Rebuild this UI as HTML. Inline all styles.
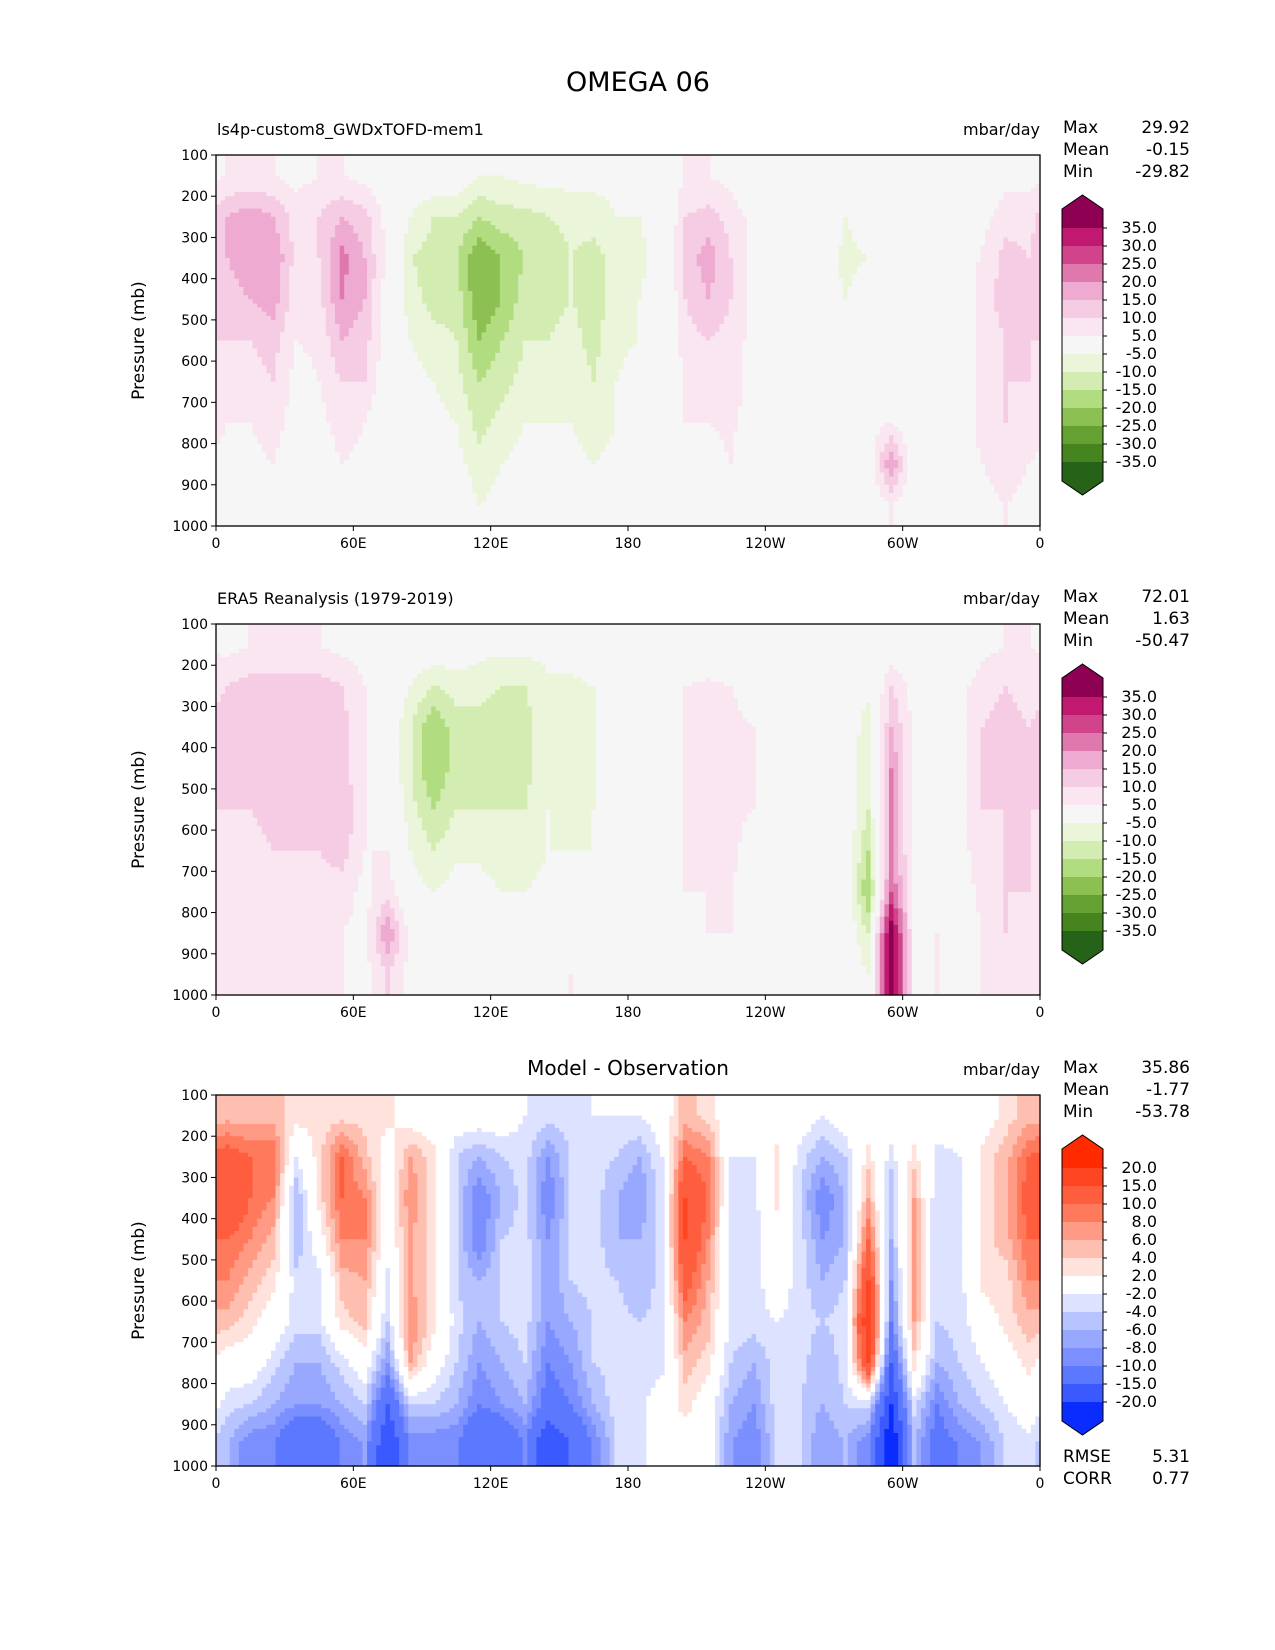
<!DOCTYPE html>
<html><head><meta charset="utf-8">
<style>
body{margin:0;background:#fff;}
svg{display:block;font-family:"DejaVu Sans","Liberation Sans",sans-serif;}
</style></head>
<body>
<svg id="fig" width="1275" height="1650" viewBox="0 0 1275 1650">
<rect width="1275" height="1650" fill="#fff"/>
<text x="638" y="91" font-size="27" text-anchor="middle">OMEGA 06</text>
</svg>
<script>
// ---------- data ----------
const lons = [5,15,25,35,45,55,65,75,85,95,105,115,125,135,145,155,165,175,185,195,205,215,225,235,245,255,265,275,285,295,305,315,325,335,345,355];
const levels = [150,250,350,450,550,650,750,850,950];
const xTickLabels = ["0","60E","120E","180","120W","60W","0"];
const yTickLabels = ["100","200","300","400","500","600","700","800","900","1000"];
const modelValues = [
[5,15,15,12,10,8,5,3,2],[5,18,20,15,10,8,5,3,2],[5,15,20,18,12,10,8,5,3],[3,8,8,6,5,3,2,0,-3],
[5,10,10,8,6,5,3,0,-2],[5,15,22,20,15,10,8,5,3],[3,12,15,15,12,10,5,3,0],[0,3,3,2,2,0,0,-5,0],
[0,-5,-10,-8,-5,-3,0,0,0],[0,-10,-12,-12,-8,-5,-3,-3,-5],[0,-10,-15,-12,-10,-8,-5,-3,0],[-5,-15,-25,-25,-20,-15,-12,-8,-5],
[-5,-12,-20,-20,-15,-12,-8,-5,-3],[-3,-12,-15,-12,-10,-8,-5,-3,0],[-3,-10,-15,-12,-10,-8,-5,-3,0],[-3,-8,-10,-10,-8,-6,-5,-3,0],
[-3,-8,-12,-12,-12,-10,-8,-5,-3],[-3,-5,-8,-8,-6,-5,-5,-3,0],[0,-5,-6,-5,-5,-3,-3,0,0],[0,-3,-3,-3,-3,0,0,0,0],
[5,10,12,10,8,5,5,3,0],[5,12,18,15,10,8,5,3,0],[3,8,10,10,8,8,6,5,3],[0,3,3,3,3,3,2,0,0],
[0,0,0,0,0,0,0,0,0],[0,0,0,0,0,0,0,0,0],[0,0,-3,-3,0,0,0,0,0],[0,-5,-6,-5,0,0,0,0,0],
[0,-3,-5,-3,0,0,3,0,0],[0,0,0,0,0,0,5,20,5],[0,0,0,0,0,0,0,0,0],[0,0,0,0,0,0,0,-3,-3],
[0,0,0,0,0,0,0,0,0],[0,3,6,8,8,8,8,5,3],[3,8,12,12,10,10,10,8,5],[3,8,10,10,10,10,8,5,3]];
const obsValues = [
[3,10,12,12,10,8,5,5,5],[5,12,12,12,10,8,5,5,5],[5,12,12,12,12,10,8,8,8],[5,12,12,12,12,10,8,5,5],
[5,12,12,12,12,10,8,5,5],[3,10,12,12,15,12,8,5,5],[3,5,5,5,5,5,3,3,3],[0,3,0,0,3,5,8,20,10],
[0,-5,-10,-10,-8,-5,-3,3,3],[0,-10,-20,-20,-15,-10,-5,0,3],[0,-8,-12,-12,-10,-6,-3,0,0],[-3,-8,-12,-12,-10,-6,-3,0,3],
[-3,-10,-15,-12,-10,-8,-5,-3,0],[-3,-10,-12,-12,-10,-8,-5,0,0],[-3,-6,-6,-6,-5,-5,-3,0,3],[-3,-6,-8,-8,-6,-5,-3,3,5],
[0,-5,-6,-6,-5,-5,-3,0,0],[0,0,0,0,0,0,0,0,0],[0,0,0,0,0,0,0,0,0],[0,0,0,0,0,0,0,0,0],
[0,5,6,6,5,5,5,3,3],[0,6,8,8,6,6,5,5,3],[0,5,6,6,6,6,5,5,3],[0,3,5,5,5,3,3,3,3],
[0,0,0,0,0,0,0,0,0],[0,0,0,0,0,0,0,0,0],[0,0,0,0,0,0,0,0,0],[0,0,0,0,0,0,0,0,0],
[0,-3,-8,-10,-10,-15,-20,-10,-5],[0,10,15,20,20,20,25,40,40],[0,3,3,3,3,3,3,3,3],[0,3,3,3,3,3,3,5,5],
[0,3,3,3,3,3,3,3,3],[3,8,10,10,10,8,6,5,5],[5,10,12,12,10,10,10,10,8],[5,8,10,10,10,10,10,8,8]];
const diffValues = [
[5,12,15,10,8,5,0,-3,-6],[5,10,10,8,5,3,0,-4,-10],[5,10,8,5,3,0,-3,-6,-10],[3,-2,-6,-6,-3,-3,-6,-8,-15],
[3,3,3,0,-3,-3,-6,-8,-15],[3,10,10,8,5,3,-3,-6,-10],[3,5,8,8,6,5,0,-4,-8],[3,0,0,0,-3,-4,-8,-15,-20],
[0,6,8,6,6,8,6,-4,-10],[0,3,3,3,3,3,0,-4,-10],[0,-4,-4,-4,-4,-3,-4,-6,-10],[0,-6,-10,-10,-6,-6,-8,-10,-15],
[0,-4,-6,-4,-4,-4,-6,-8,-15],[-2,-3,-3,-3,-3,-3,-4,-6,-10],[-3,-8,-10,-8,-8,-8,-10,-12,-20],[-3,-4,-4,-4,-4,-6,-8,-10,-15],
[-2,-3,-3,-3,-3,-4,-4,-6,-10],[-2,-4,-6,-6,-4,-3,-3,-3,-4],[-2,-6,-8,-6,-6,-4,-3,-3,-3],[0,-2,-3,-3,-3,-3,-3,0,0],
[5,10,15,15,12,8,5,3,0],[3,8,10,8,6,5,3,0,0],[0,-2,-3,-3,-3,-3,-4,-6,-8],[0,-2,-3,-3,-3,-3,-6,-8,-10],
[0,3,3,0,0,-2,-3,-3,-4],[0,-3,-4,-3,-3,-3,-3,-4,-4],[-2,-6,-10,-8,-6,-4,-6,-6,-8],[0,-4,-6,-6,-4,-3,-3,-4,-6],
[0,3,6,10,15,20,15,-3,-10],[0,-3,-6,-6,-8,-10,-15,-20,-25],[0,3,6,6,6,6,3,-3,-6],[0,-3,-4,-4,-4,-4,-6,-10,-12],
[0,-2,-3,-3,-3,-3,-4,-6,-10],[0,3,3,3,3,0,-2,-4,-8],[3,5,5,5,3,3,0,-2,-4],[5,10,12,10,8,5,3,0,-3]];
const piygLevels = [-35,-30,-25,-20,-15,-10,-5,5,10,15,20,25,30,35];
const piygColors = ["#276219","#46841f","#65a032","#8cc052","#b2dc80","#d3ecb1","#eaf5da","#f6f6f6","#fae6f0","#f6cce4","#eeaad0","#df79ad","#d1448c","#c0196f","#8e0152"];
const diffLevels = [-20,-15,-10,-8,-6,-4,-2,2,4,6,8,10,15,20];
const diffColors = ["#0a2cff","#3a5aff","#5c78ff","#7b8fff","#98a8ff","#b8c4ff","#dce2ff","#ffffff","#ffe2dc","#ffbfb0","#ff9a85","#ff7a5c","#ff5e3e","#ff4422","#ff2a00"];
const panelTitles = ["ls4p-custom8_GWDxTOFD-mem1","ERA5 Reanalysis (1979-2019)","Model - Observation"];
const statMax = ["29.92","72.01","35.86"];
const statMean = ["-0.15","1.63","-1.77"];
const statMin = ["-29.82","-50.47","-53.78"];

// ---------- drawing ----------
const NS="http://www.w3.org/2000/svg";
const svg=document.getElementById('fig');
function mk(tag,attrs,parent){const e=document.createElementNS(NS,tag);for(const k in attrs)e.setAttribute(k,attrs[k]);(parent||svg).appendChild(e);return e;}
const X0=216,X1=1040,H=371;
const panelTops=[155,624,1095];
function xScale(lon){return X0+(lon/360)*(X1-X0);}
function yScale(p,top){return top+((p-100)/900)*H;}
function sample(vals,lon,p){
  let fi=(lon-5)/10; let i0=Math.floor(fi); const t=fi-i0;
  const n=lons.length; const a=((i0%n)+n)%n, b=(a+1)%n;
  let fj=(p-150)/100; if(fj<0)fj=0; if(fj>8)fj=8;
  const j0=Math.min(Math.floor(fj),7); const u=fj-j0;
  const v00=vals[a][j0],v01=vals[a][j0+1],v10=vals[b][j0],v11=vals[b][j0+1];
  return (v00*(1-u)+v01*u)*(1-t)+(v10*(1-u)+v11*u)*t;
}
function colorIdx(v,lv){let k=0;while(k<lv.length&&v>=lv[k])k++;return k;}

function drawPanel(pi,vals,lv,cols){
  const top=panelTops[pi];
  const g=mk('g',{});
  
  
  const dl=2, dp=10;
  for(let p=100;p<1000;p+=dp){
    let runStart=0, runC=-1;
    for(let l=0;l<=360;l+=dl){
      const c = l<360 ? colorIdx(sample(vals,l+dl/2,p+dp/2),lv) : -2;
      if(c!==runC){
        if(runC>=0){
          const r=mk('rect',{x:xScale(runStart).toFixed(2),y:yScale(p,top).toFixed(2),width:(xScale(l)-xScale(runStart)+0.6).toFixed(2),height:(yScale(p+dp,top)-yScale(p,top)+0.6).toFixed(2),fill:cols[runC]},g);
          
          
        }
        runStart=l; runC=c;
      }
    }
  }
  const fr=mk('rect',{x:X0,y:top,width:X1-X0,height:H,fill:'none',stroke:'#000','stroke-width':1.3});
  
  
  yTickLabels.forEach((lab,k)=>{
    const y=yScale(100+k*100,top);
    mk('line',{x1:X0-5,x2:X0,y1:y,y2:y,stroke:'#000','stroke-width':1});
    const t=mk('text',{x:X0-8,y:y+5,'font-size':14,'text-anchor':'end'});t.textContent=lab;
    
    
  });
  xTickLabels.forEach((lab,k)=>{
    const x=xScale(k*60);
    mk('line',{x1:x,x2:x,y1:top+H,y2:top+H+5,stroke:'#000','stroke-width':1});
    const t=mk('text',{x:x,y:top+H+22,'font-size':14,'text-anchor':'middle'});t.textContent=lab;
    
    
  });
  const yl=mk('text',{x:0,y:0,'font-size':17,'text-anchor':'middle',transform:`translate(144,${top+H/2}) rotate(-90)`});
  yl.textContent='Pressure (mb)';
  
  
  if(pi<2){
    const st=mk('text',{x:X0+1,y:top-20,'font-size':16});st.textContent=panelTitles[pi];
    
    
  } else {
    const st=mk('text',{x:(X0+X1)/2,y:top-20,'font-size':20,'text-anchor':'middle'});st.textContent=panelTitles[pi];
    
    
  }
  const un=mk('text',{x:X1,y:top-20,'font-size':16,'text-anchor':'end'});un.textContent='mbar/day';
  
  
  [["Max",statMax[pi]],["Mean",statMean[pi]],["Min",statMin[pi]]].forEach((s,k)=>{
    const y=top-22+k*22;
    const a=mk('text',{x:1063,y:y,'font-size':17});a.textContent=s[0];
    
    
    const b=mk('text',{x:1190,y:y,'font-size':17,'text-anchor':'end'});b.textContent=s[1];
    
    
  });
  const off=top-155;
  const cx0=1062,cx1=1103,b0=228+off,step=18;
  const cg=mk('g',{});
  
  
  const nl=lv.length;
  mk('polygon',{points:`${cx0},${b0} ${cx0},${b0-19} ${(cx0+cx1)/2},${b0-33} ${cx1},${b0-19} ${cx1},${b0}`,fill:cols[nl]},cg);
  for(let k=0;k<nl-1;k++){
    mk('rect',{x:cx0,y:b0+k*step,width:cx1-cx0,height:step+0.5,fill:cols[nl-1-k]},cg);
  }
  const bb=b0+(nl-1)*step;
  mk('polygon',{points:`${cx0},${bb} ${cx0},${bb+19} ${(cx0+cx1)/2},${bb+33} ${cx1},${bb+19} ${cx1},${bb}`,fill:cols[0]},cg);
  mk('polygon',{points:`${cx0},${b0-19} ${(cx0+cx1)/2},${b0-33} ${cx1},${b0-19} ${cx1},${bb+19} ${(cx0+cx1)/2},${bb+33} ${cx0},${bb+19}`,fill:'none',stroke:'#000','stroke-width':1},cg);
  for(let k=0;k<nl;k++){
    const y=b0+k*step;
    mk('line',{x1:cx1,x2:cx1+4,y1:y,y2:y,stroke:'#000'},cg);
    const t=mk('text',{x:1157,y:y+5,'font-size':16,'text-anchor':'end'},cg);
    t.textContent=lv[nl-1-k].toFixed(1);
    
    
  }
}
drawPanel(0,modelValues,piygLevels,piygColors);
drawPanel(1,obsValues,piygLevels,piygColors);
drawPanel(2,diffValues,diffLevels,diffColors);
[["RMSE","5.31",1462],["CORR","0.77",1484]].forEach(s=>{
  const a=mk('text',{x:1063,y:s[2],'font-size':17});a.textContent=s[0];
  
  
  const b=mk('text',{x:1190,y:s[2],'font-size':17,'text-anchor':'end'});b.textContent=s[1];
  
  
});
</script>
</body></html>
